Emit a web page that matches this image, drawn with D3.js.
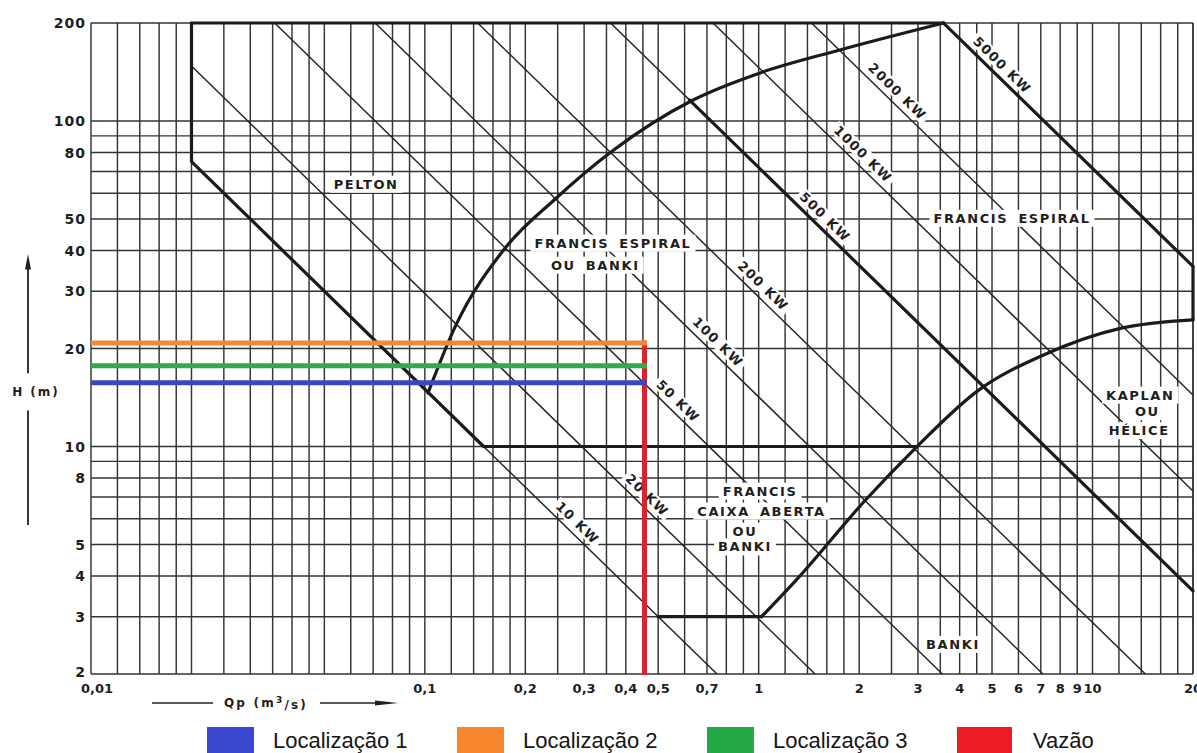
<!DOCTYPE html>
<html lang="pt">
<head>
<meta charset="utf-8">
<title>Seleção de turbinas</title>
<script src="https://cdn.jsdelivr.net/npm/d3@7/dist/d3.min.js"></script>
<style>
	body { margin: 0; background: #fff; }
	svg { display: block; }
	.grid line { stroke: #333; stroke-width: 1.45; }
	.power { fill: none; stroke: #262626; stroke-width: 1.5; }
	.edge { fill: none; stroke: #1b1b1b; stroke-width: 3.2; stroke-linejoin: round; stroke-linecap: round; }
	.chart-text { font-family: "DejaVu Sans", sans-serif; font-weight: bold; fill: #1e1e1e; }
	.legend text { font-family: "Liberation Sans", Arial, sans-serif; font-size: 22px; fill: #151515; }
</style>
</head>
<body>
<script>
const gridSteps = [1, 1.2, 1.4, 1.6, 1.8, 2, 2.5, 3, 3.5, 4, 4.5, 5, 6, 7, 8, 9];
const gridDecades = [0.01, 0.1, 1, 10];
const hGrid = [2, 3, 4, 5, 6, 7, 8, 9, 10, 20, 30, 40, 50, 60, 70, 80, 90, 100, 200];

const qTicks = [0.01, 0.1, 0.2, 0.3, 0.4, 0.5, 0.7, 1, 2, 3, 4, 5, 6, 7, 8, 9, 10, 20];
const qTickLabels = ["0,01", "0,1", "0,2", "0,3", "0,4", "0,5", "0,7", "1", "2", "3", "4", "5", "6", "7", "8", "9", "10", "20"];
const hTicks = [2, 3, 4, 5, 8, 10, 20, 30, 40, 50, 80, 100, 200];

const powerKW = [10, 20, 50, 100, 200, 500, 1000, 2000, 5000];
const powerQH = [1.5, 2.95, 7.1, 14.2, 28.8, 72, 146, 288, 715];
const powerLabelQ = [0.272, 0.44, 0.544, 0.717, 0.978, 1.5, 1.95, 2.47, 5.09];
const thickPowerKW = [500, 5000];
const thickPowerFromQ = [0.62, 3.58];

// region boundaries, [Q, H]
const peltonEdge = [[0.02, 200], [0.02, 75], [0.15, 10], [2.95, 10]];
const topEdge = [[0.02, 200], [3.58, 200]];
const francisArc = [[0.1022, 14.6], [0.1232, 23.3], [0.174, 40.7], [0.244, 57.2], [0.361, 80.3], [0.636, 116], [1.02, 141], [1.74, 165], [3.58, 200]];
const kaplanArc = [[1.02, 3.0], [1.32, 3.97], [2.09, 6.85], [2.91, 9.75], [4.56, 14.9], [7.13, 19.1], [12.2, 23.1], [20, 24.5]];
const kaplanEdge = [[20, 24.5], [20, 35.7]];
const bankiEdge = [[0.5, 3], [1.02, 3]];

const regionText = ["PELTON", "FRANCIS ESPIRAL", "OU BANKI", "FRANCIS ESPIRAL", "FRANCIS", "CAIXA ABERTA", "OU", "BANKI", "KAPLAN", "OU", "HÉLICE", "BANKI"];
const regionQ = [0.0667, 0.366, 0.324, 5.74, 1.01, 1.02, 0.91, 0.91, 13.9, 14.6, 13.8, 3.82];
const regionH = [64, 42.2, 36.1, 50.3, 7.3, 6.34, 5.5, 4.92, 14.4, 12.8, 11.2, 2.47];

const siteNames = ["Localização 1", "Localização 2", "Localização 3"];
const siteHeads = [15.7, 20.8, 17.7];
const siteColors = ["#3b46c2", "#f28a35", "#2eab4c"];
const vazaoQ = 0.455;
const vazaoColor = "#d8242c";

const legendNames = ["Localização 1", "Localização 2", "Localização 3", "Vazão"];
const legendColors = ["#3a47cf", "#f7862c", "#22a847", "#ec1c24"];

let width = 1197, height = 753;
let margin = {top: 23, right: 4, bottom: 79, left: 91};

let x = d3.scaleLog().domain([0.01, 20]).range([margin.left, width - margin.right]);
let y = d3.scaleLog().domain([2, 200]).range([height - margin.bottom, margin.top]);

let line = d3.line().x(d => x(d[0])).y(d => y(d[1]));
let curve = d3.line().x(d => x(d[0])).y(d => y(d[1])).curve(d3.curveMonotoneX);

let angle = Math.atan2(y(2) - y(20), x(10) - x(1)) * 180 / Math.PI;

let powerSegment = (qh, from) => {
	let q0 = Math.max(from, qh / 200), q1 = Math.min(20, qh / 2);
	return [[q0, qh / q0], [q1, qh / q1]];
};

let svg = d3.select("body").append("svg")
	.attr("width", width)
	.attr("height", height)
	.attr("viewBox", `0 0 ${width} ${height}`);

let qGrid = gridDecades.flatMap(d => gridSteps.map(s => +(d * s).toPrecision(3))).concat(20);

let grid = svg.append("g").attr("class", "grid");
grid.selectAll("line.v").data(qGrid).join("line")
	.attr("class", "v")
	.attr("x1", d => x(d)).attr("x2", d => x(d))
	.attr("y1", y(200)).attr("y2", y(2));
grid.selectAll("line.h").data(hGrid).join("line")
	.attr("class", "h")
	.attr("x1", x(0.01)).attr("x2", x(20))
	.attr("y1", d => y(d)).attr("y2", d => y(d));

let powerBg = svg.append("g");
let powerLayer = svg.append("g");
let regionBg = svg.append("g");
let edgeLayer = svg.append("g");
let textLayer = svg.append("g").attr("class", "chart-text");

powerLayer.selectAll("path").data(powerQH).join("path")
	.attr("class", "power")
	.attr("d", d => line(powerSegment(d, 0.02)));

// power labels sit just above their line
let powerLabels = textLayer.append("g").selectAll("g").data(powerKW).join("g")
	.attr("transform", (d, i) => {
		let q = powerLabelQ[i];
		return `translate(${x(q)},${y(powerQH[i] / q)}) rotate(${angle})`;
	});
powerLabels.append("text")
	.attr("y", -11)
	.attr("dy", "0.36em")
	.attr("text-anchor", "middle")
	.style("font-size", "13px")
	.style("letter-spacing", "1.4px")
	.text(d => `${d} KW`)
	.each(function(d, i) {
		let w = this.getComputedTextLength() + 6;
		let q = powerLabelQ[i];
		powerBg.append("rect")
			.attr("transform", `translate(${x(q)},${y(powerQH[i] / q)}) rotate(${angle})`)
			.attr("x", -w / 2).attr("y", -18)
			.attr("width", w).attr("height", 14)
			.attr("fill", "#fff");
	});

textLayer.append("g").selectAll("text").data(regionText).join("text")
	.attr("x", (d, i) => x(regionQ[i]))
	.attr("y", (d, i) => y(regionH[i]))
	.attr("dy", "0.36em")
	.attr("text-anchor", "middle")
	.style("font-size", "13px")
	.style("letter-spacing", "1.6px")
	.style("word-spacing", "4px")
	.text(d => d)
	.each(function() {
		let b = this.getBBox();
		regionBg.append("rect")
			.attr("x", b.x - 4).attr("y", b.y - 1)
			.attr("width", b.width + 8).attr("height", b.height + 2)
			.attr("fill", "#fff");
	});

edgeLayer.selectAll("path.thick-power").data(thickPowerKW).join("path")
	.attr("class", "edge thick-power")
	.attr("d", (d, i) => line(powerSegment(powerQH[powerKW.indexOf(d)], thickPowerFromQ[i])));

[peltonEdge, topEdge, kaplanEdge, bankiEdge].forEach(pts => {
	edgeLayer.append("path").attr("class", "edge").attr("d", line(pts));
});
[francisArc, kaplanArc].forEach(pts => {
	edgeLayer.append("path").attr("class", "edge").attr("d", curve(pts));
});

// axes
let axisText = svg.append("g").attr("class", "chart-text");

axisText.append("g").selectAll("text").data(hTicks).join("text")
	.attr("x", margin.left - 5)
	.attr("y", d => y(d) + (d === 2 ? -2 : 0))
	.attr("dy", "0.36em")
	.attr("text-anchor", "end")
	.style("font-size", "14px")
	.style("letter-spacing", "1px")
	.text(d => d);

axisText.append("g").selectAll("text").data(qTicks).join("text")
	.attr("x", d => x(d) + (d === 0.01 ? -10 : 0))
	.attr("y", y(2) + 14)
	.attr("dy", "0.36em")
	.attr("text-anchor", d => d === 0.01 ? "start" : "middle")
	.style("font-size", "13px")
	.text((d, i) => qTickLabels[i]);

let hAxisX = 28;
axisText.append("text")
	.attr("x", 36).attr("y", y(14.7))
	.attr("dy", "0.36em")
	.attr("text-anchor", "middle")
	.style("font-size", "12px")
	.style("letter-spacing", "2px")
	.text("H (m)");
svg.append("line")
	.attr("x1", hAxisX).attr("x2", hAxisX)
	.attr("y1", y(16.8)).attr("y2", y(36))
	.attr("stroke", "#222").attr("stroke-width", 1.8);
svg.append("path")
	.attr("d", `M${hAxisX - 3},${y(35)} L${hAxisX},${y(39)} L${hAxisX + 3},${y(35)} Z`)
	.attr("fill", "#222");
svg.append("line")
	.attr("x1", hAxisX).attr("x2", hAxisX)
	.attr("y1", y(12.9)).attr("y2", y(5.74))
	.attr("stroke", "#222").attr("stroke-width", 1.8);

let qAxisY = y(2) + 29;
let qTitle = axisText.append("text")
	.attr("x", 266).attr("y", qAxisY)
	.attr("dy", "0.36em")
	.attr("text-anchor", "middle")
	.style("font-size", "12px")
	.style("letter-spacing", "2.2px");
qTitle.append("tspan").text("Qp (m");
qTitle.append("tspan").attr("dy", "-0.45em").style("font-size", "9px").text("3");
qTitle.append("tspan").attr("dy", "0.45em").text("/s)");
svg.append("line")
	.attr("x1", 152).attr("x2", 213)
	.attr("y1", qAxisY).attr("y2", qAxisY)
	.attr("stroke", "#222").attr("stroke-width", 1.6);
svg.append("line")
	.attr("x1", 320).attr("x2", 385)
	.attr("y1", qAxisY).attr("y2", qAxisY)
	.attr("stroke", "#222").attr("stroke-width", 1.6);
svg.append("path")
	.attr("d", `M375,${qAxisY - 2.5} L398,${qAxisY} L375,${qAxisY + 2.5} Z`)
	.attr("fill", "#222");

// site heads and design flow
svg.append("line")
	.attr("x1", x(vazaoQ)).attr("x2", x(vazaoQ))
	.attr("y1", y(d3.max(siteHeads)) - 2.5).attr("y2", y(2) + 1)
	.attr("stroke", vazaoColor).attr("stroke-width", 5);

svg.append("g").selectAll("line").data(siteHeads).join("line")
	.attr("x1", x(0.01)).attr("x2", x(vazaoQ) + 2.5)
	.attr("y1", d => y(d)).attr("y2", d => y(d))
	.attr("stroke", (d, i) => siteColors[i])
	.attr("stroke-width", 5);

let legend = svg.append("g").attr("class", "legend");
let items = legend.selectAll("g").data(legendNames).join("g")
	.attr("transform", (d, i) => `translate(${207 + i * 250},727)`);
items.append("rect")
	.attr("width", (d, i) => i === 3 ? 55 : 47)
	.attr("height", 30)
	.attr("fill", (d, i) => legendColors[i]);
items.append("text")
	.attr("x", (d, i) => i === 3 ? 76 : 66)
	.attr("y", 21)
	.text(d => d);
</script>
</body>
</html>
